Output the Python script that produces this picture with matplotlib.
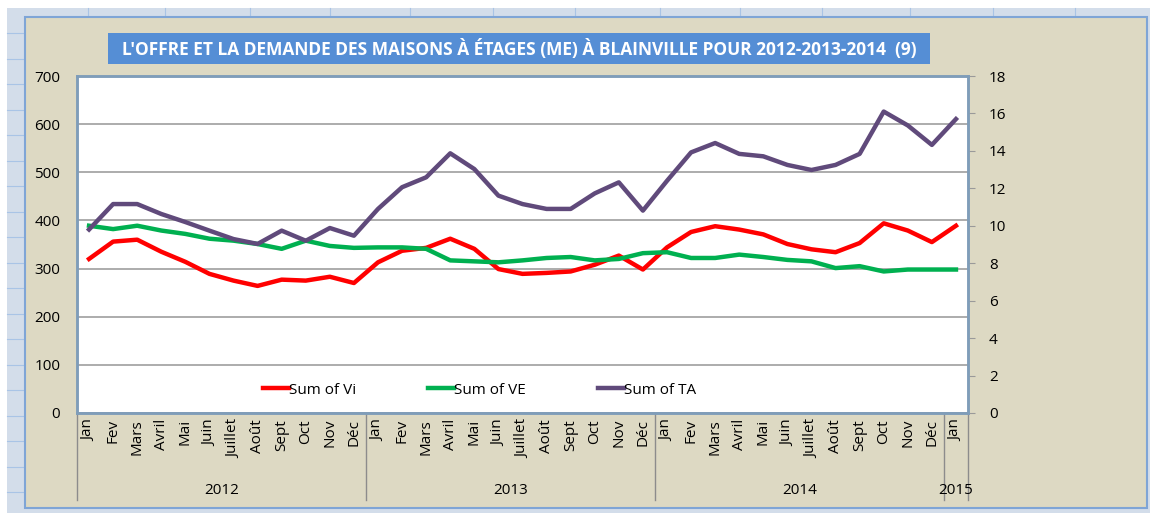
import matplotlib
import matplotlib.pyplot as plt
import numpy as np
from matplotlib.patches import Rectangle
from matplotlib.lines import Line2D
from matplotlib.transforms import blended_transform_factory

matplotlib.use('Agg')

# Categories: months from Jan 2012 to Jan 2015
months = ['Jan', 'Fev', 'Mars', 'Avril', 'Mai', 'Juin', 'Juillet', 'Août',
          'Sept', 'Oct', 'Nov', 'Déc'] * 3 + ['Jan']
years = ['2012', '2013', '2014', '2015']
year_sizes = [12, 12, 12, 1]

# Series
sum_vi = [320, 356, 360, 335, 314, 289, 275, 264, 277, 275, 283, 270,
          313, 337, 343, 362, 341, 299, 289, 291, 294, 308, 327, 298,
          344, 376, 388, 381, 371, 351, 340, 334, 353, 394, 379, 355,
          389]
sum_ve = [389, 382, 389, 379, 372, 362, 358, 351, 341, 358, 347, 343,
          344, 344, 341, 317, 315, 313, 317, 322, 324, 317, 320, 332,
          334, 322, 322, 329, 324, 318, 315, 301, 305, 294, 298, 298,
          298]
sum_ta = [9.8, 11.16, 11.16, 10.63, 10.2, 9.74, 9.29, 9.03, 9.74, 9.2, 9.88, 9.47,
          10.9, 12.06, 12.59, 13.87, 13.03, 11.61, 11.16, 10.9, 10.9, 11.73, 12.32, 10.81,
          12.4, 13.92, 14.42, 13.84, 13.71, 13.25, 12.98, 13.25, 13.84, 16.1, 15.36, 14.32,
          15.7]

title = "L'OFFRE ET LA DEMANDE DES MAISONS À ÉTAGES (ME) À BLAINVILLE POUR 2012-2013-2014  (9)"

plt.rcParams['font.family'] = ['Liberation Sans Narrow', 'Open Sans', 'DejaVu Sans']

W, H = 1150, 513
fig = plt.figure(figsize=(W / 100, H / 100), dpi=100)
fig.patch.set_facecolor('white')


def px_rect(x0, y0, x1, y1, **kw):
    # rectangle in pixel coords measured from top-left
    return Rectangle((x0 / W, 1 - y1 / H), (x1 - x0) / W, (y1 - y0) / H,
                     transform=fig.transFigure, **kw)


# spreadsheet background behind the chart
fig.patches.append(px_rect(7, 8, W, H, facecolor='#D3DDEA', edgecolor='none', zorder=0))
for yy in np.arange(33, H, 25.5):
    fig.lines.append(Line2D([7 / W, 25 / W], [1 - yy / H] * 2, transform=fig.transFigure,
                            color='#A9C4E6', lw=0.8, zorder=0.5))
for xx in [88, 165, 250, 330, 410, 493, 575, 660, 740, 822, 910, 993, 1075]:
    fig.lines.append(Line2D([xx / W] * 2, [1 - 8 / H, 1 - 17 / H], transform=fig.transFigure,
                            color='#A9C4E6', lw=0.8, zorder=0.5))
# chart area
fig.patches.append(px_rect(25, 17, 1147, 508, facecolor='#DDD9C3', edgecolor='#7FA5D6',
                           lw=1.5, zorder=1))
# title box
fig.patches.append(px_rect(108, 33, 930, 64, facecolor='#558ED5', edgecolor='none', zorder=2))
fig.text(519 / W, 1 - 48.5 / H, title, color='white', fontsize=12.5, fontweight='bold',
         ha='center', va='center', zorder=3)

left, right, top, bottom = 77, 968, 76, 413
ax = fig.add_axes([left / W, 1 - bottom / H, (right - left) / W, (bottom - top) / H])
ax.set_zorder(3)
ax.set_facecolor('white')
ax2 = ax.twinx()

x = np.arange(len(months))
l1, = ax.plot(x, sum_vi, color='#FF0000', lw=3.2, label='Sum of Vi', solid_joinstyle='round')
l2, = ax.plot(x, sum_ve, color='#00B050', lw=3.2, label='Sum of VE', solid_joinstyle='round')
l3, = ax2.plot(x, sum_ta, color='#604A7B', lw=3.2, label='Sum of TA', solid_joinstyle='round')

ax.set_xlim(-0.5, len(months) - 0.5)
ax.set_ylim(0, 700)
ax.set_yticks(np.arange(0, 701, 100))
ax2.set_ylim(0, 18)
ax2.set_yticks(np.arange(0, 19, 2))
ax.set_xticks([])
ax.grid(axis='y', color='#A6A6A6', lw=1.3)
ax.set_axisbelow(True)

ax.tick_params(axis='y', length=0, labelsize=11, pad=12)
ax2.tick_params(axis='y', length=5, color='#9A9A9A', labelsize=11, pad=10)
for a in (ax, ax2):
    for s in a.spines.values():
        s.set_color('#7F9DB9')
        s.set_linewidth(1.8)

leg = ax.legend(handles=[l1, l2, l3], loc='center', bbox_to_anchor=(0.452, 0.068), ncol=3,
                frameon=False, fontsize=11, handlelength=1.7, handletextpad=0.0,
                columnspacing=4.7)

# multi-level category axis
trans = blended_transform_factory(ax.transData, fig.transFigure)
for i, m in enumerate(months):
    ax.text(i, 1 - 419 / H, m, transform=trans, rotation=90, ha='center', va='top',
            fontsize=11, clip_on=False)
edges = np.concatenate([[0], np.cumsum(year_sizes)]) - 0.5
for e in edges:
    ax.add_line(Line2D([e, e], [1 - bottom / H, 1 - 500 / H], transform=trans,
                       color='#8C8C8C', lw=1, clip_on=False))
for y, a, b in zip(years, edges[:-1], edges[1:]):
    ax.text((a + b) / 2, 1 - 491 / H, y, transform=trans, ha='center', va='center',
            fontsize=11, clip_on=False)

fig.savefig('out.png', dpi=100, facecolor=fig.get_facecolor())
